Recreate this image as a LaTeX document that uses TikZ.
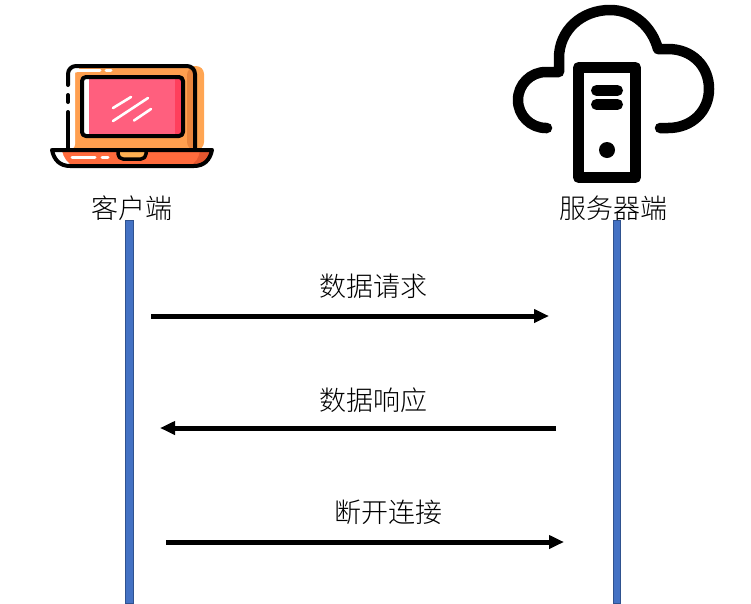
\documentclass[tikz,border=0pt]{standalone}
\usepackage{fontspec}
\usetikzlibrary{arrows.meta}
\setmainfont{Noto Sans CJK SC Light}
\definecolor{barblue}{HTML}{4472C4}
\definecolor{baredge}{HTML}{2F528F}
\definecolor{lapback}{HTML}{FFA552}
\definecolor{lapbody}{HTML}{FF9F4F}
\definecolor{lapdark}{HTML}{E8843C}
\definecolor{lapscreen}{HTML}{FF5F7E}
\definecolor{lapscreend}{HTML}{FF3F5C}
\definecolor{lapbase}{HTML}{FF6B3D}
\definecolor{lapbased}{HTML}{E5572F}
\definecolor{lapnotch}{HTML}{FFB052}
\tikzset{
  lbl/.style={font=\fontsize{27}{30}\selectfont, inner sep=0pt, text=black},
  lifeline/.style={draw=baredge, fill=barblue, line width=1pt},
  msg/.style={line width=5pt, -{Triangle[length=15pt,width=13pt]}},
  ink/.style={draw=black, line width=4pt, line cap=round, line join=round},
  cloudline/.style={draw=black, line width=10.5pt, line cap=round, line join=round},
  glare/.style={draw=white, line width=2.6pt, line cap=round},
}
\begin{document}
\begin{tikzpicture}[x=1pt,y=-1pt]
\useasboundingbox (0,0) rectangle (751,603);
% ---- laptop ----
\fill[lapback,rounded corners=8pt] (80,66) rectangle (204,150);
\fill[lapbody,rounded corners=8pt] (68,67) rectangle (195,150);
\fill[lapdark,rounded corners=8pt] (187,67) -- (195,67) -- (195,150) -- (187,150) -- cycle;
\fill[white,rounded corners=6pt] (68,150) -- (68,67) -- (75,67) -- (75,150) -- cycle;
\fill[white,rounded corners=4pt] (69,67) rectangle (80,72.5);
\draw[white,line width=3pt,line cap=round] (78,70.5) -- (100,70.5) (106,70.5) -- (111,70.5);
\draw[ink,rounded corners=8pt] (68,150) -- (68,112);
\draw[ink] (68,95) -- (68,102);
\draw[ink,rounded corners=8pt] (68,85) -- (68,66) -- (195,66) -- (195,150);
\fill[lapscreen,rounded corners=4pt] (82,77) rectangle (183,136);
\fill[white] (84,79) rectangle (89,134);
\fill[lapscreend] (175,79) rectangle (181,134);
\draw[ink,rounded corners=4pt] (82,77) rectangle (183,136);
\draw[glare] (113,108) -- (131,97) (113,121) -- (148,98) (134,120.5) -- (151,109);
\fill[lapbase] (52,150) -- (212,150) .. controls (210,160) and (204,166) .. (194,166) -- (70,166) .. controls (60,166) and (54,160) .. (52,150) -- cycle;
\fill[lapbased] (200,150) -- (212,150) .. controls (210,160) and (204,166) .. (194,166) -- (188,166) .. controls (196,164) and (199,158) .. (200,150) -- cycle;
\fill[white] (52,150) -- (62,150) .. controls (63,158) and (68,164) .. (74,166) -- (70,166) .. controls (60,166) and (54,160) .. (52,150) -- cycle;
\draw[white,line width=3pt,line cap=round] (72,157) -- (95,157) (102,157) -- (108,157);
\fill[lapnotch,rounded corners=4pt] (118,150) rectangle (146,159);
\draw[ink,line width=3.5pt,rounded corners=5pt] (118,150) -- (118,159) -- (146,159) -- (146,150);
\draw[ink] (52,150) -- (212,150) .. controls (210,160) and (204,166) .. (194,166) -- (70,166) .. controls (60,166) and (54,160) .. (52,150) -- cycle;
% ---- cloud and server ----
\draw[cloudline] (547,128) -- (546,128) arc[start angle=90,end angle=270,radius=28] -- (559,72) -- (559,58) .. controls (559,30) and (582,10) .. (610,10) .. controls (634,10) and (652,27) .. (658,49) -- (668,49) .. controls (692,49) and (709,66) .. (709,89) .. controls (709,111) and (692,128) .. (668,128) -- (660,128);
\draw[black,line width=11pt,line join=round] (578.5,67.5) rectangle (635.5,177.5);
\draw[black,line width=11pt,line cap=round] (596.5,90.5) -- (617.5,90.5) (596.5,104.5) -- (617.5,104.5);
\fill[black] (607,150) circle[radius=8];
% ---- labels ----
\node[lbl] (client) at (131.5,208) {客户端};
\node[lbl] (server) at (613,208) {服务器端};
% ---- lifelines ----
\draw[lifeline] (125.5,220.5) rectangle (133.5,603.5);
\draw[lifeline] (613.5,220.5) rectangle (620.5,603.5);
% ---- messages ----
\coordinate (a1) at (151,316); \coordinate (b1) at (549,316);
\coordinate (a2) at (556,428); \coordinate (b2) at (160,428);
\coordinate (a3) at (166,542); \coordinate (b3) at (564,542);
\draw[msg] (a1) -- (b1);
\draw[msg] (a2) -- (b2);
\draw[msg] (a3) -- (b3);
\node[lbl] (m1) at (373,286) {数据请求};
\node[lbl] (m2) at (373,400) {数据响应};
\node[lbl] (m3) at (388,512) {断开连接};
\end{tikzpicture}
\end{document}
